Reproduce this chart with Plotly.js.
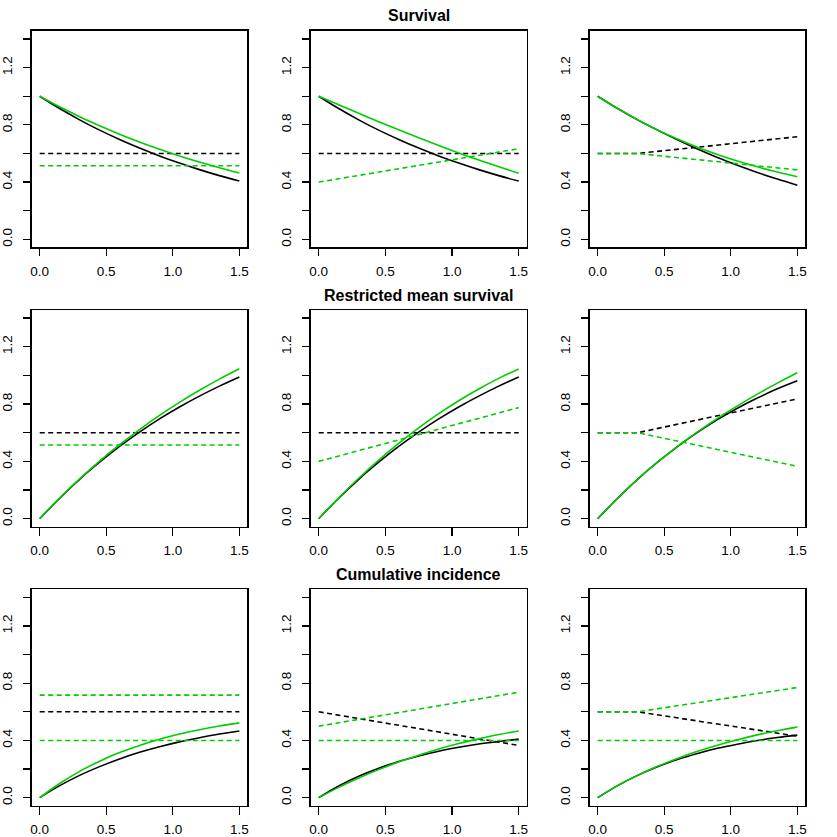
<!DOCTYPE html>
<html>
<head>
<meta charset="utf-8">
<script src="https://cdn.plot.ly/plotly-3.0.1.min.js"></script>
<style>
  html, body { margin: 0; padding: 0; background: #fff; }
  #myDiv { width: 837px; height: 837px; }
</style>
</head>
<body>
<div id="myDiv"></div>
<script>
// shared time grid for the solid curves
var times = [0, 0.15, 0.3, 0.45, 0.6, 0.75, 0.9, 1.05, 1.2, 1.35, 1.5];
var flatX = [0, 1.5];
var kinkX = [0, 0.3, 1.5];

var xTickVals = [0, 0.5, 1, 1.5];
var xTickText = ['0.0', '0.5', '1.0', '1.5'];
var yTickVals = [0, 0.2, 0.4, 0.6, 0.8, 1.0, 1.2, 1.4];
var yTickText = ['0.0', '', '0.4', '', '0.8', '', '1.2', ''];

var rowTitles = ['Survival', 'Restricted mean survival', 'Cumulative incidence'];

// row 1 - survival
var surv1Black = [1, 0.914, 0.835, 0.763, 0.698, 0.638, 0.583, 0.533, 0.487, 0.445, 0.407];
var surv1Green = [1, 0.926, 0.857, 0.794, 0.735, 0.680, 0.630, 0.583, 0.540, 0.500, 0.463];
var surv2Black = [1, 0.914, 0.835, 0.763, 0.698, 0.638, 0.583, 0.533, 0.487, 0.445, 0.407];
var surv2Green = [1, 0.940, 0.881, 0.822, 0.765, 0.710, 0.656, 0.604, 0.554, 0.507, 0.462];
var surv3Black = [1, 0.914, 0.835, 0.763, 0.695, 0.631, 0.572, 0.518, 0.467, 0.421, 0.378];
var surv3Green = [1, 0.914, 0.835, 0.764, 0.701, 0.644, 0.593, 0.548, 0.507, 0.470, 0.437];
var hazS1Black = [0.6, 0.6];
var hazS1Green = [0.514, 0.514];
var hazS2Black = [0.6, 0.6];
var hazS2Green = [0.4, 0.633];
var hazS3Black = [0.6, 0.6, 0.717];
var hazS3Green = [0.6, 0.6, 0.485];

// row 2 - restricted mean survival
var rmst1Black = [0, 0.143, 0.275, 0.394, 0.504, 0.604, 0.696, 0.779, 0.855, 0.925, 0.989];
var rmst1Green = [0, 0.144, 0.278, 0.402, 0.516, 0.622, 0.721, 0.812, 0.896, 0.974, 1.046];
var rmst2Black = [0, 0.143, 0.275, 0.394, 0.504, 0.604, 0.696, 0.779, 0.855, 0.925, 0.989];
var rmst2Green = [0, 0.145, 0.282, 0.409, 0.526, 0.634, 0.733, 0.823, 0.905, 0.979, 1.045];
var rmst3Black = [0, 0.143, 0.275, 0.394, 0.503, 0.602, 0.691, 0.771, 0.842, 0.906, 0.962];
var rmst3Green = [0, 0.143, 0.275, 0.394, 0.505, 0.606, 0.700, 0.787, 0.869, 0.946, 1.018];
var hazR1Black = [0.6, 0.6];
var hazR1Green = [0.514, 0.514];
var hazR2Black = [0.6, 0.6];
var hazR2Green = [0.4, 0.775];
var hazR3Black = [0.6, 0.6, 0.836];
var hazR3Green = [0.6, 0.6, 0.365];

// row 3 - cumulative incidence
var cif1Black = [0, 0.084, 0.156, 0.217, 0.271, 0.317, 0.356, 0.390, 0.419, 0.445, 0.466];
var cif1Green = [0, 0.099, 0.184, 0.255, 0.315, 0.365, 0.408, 0.445, 0.475, 0.501, 0.523];
var cif2Black = [0, 0.082, 0.150, 0.206, 0.253, 0.292, 0.325, 0.352, 0.375, 0.393, 0.409];
var cif2Green = [0, 0.072, 0.137, 0.196, 0.250, 0.297, 0.340, 0.378, 0.411, 0.441, 0.466];
var cif3Black = [0, 0.084, 0.156, 0.216, 0.267, 0.309, 0.345, 0.374, 0.399, 0.420, 0.437];
var cif3Green = [0, 0.084, 0.156, 0.219, 0.274, 0.324, 0.367, 0.405, 0.439, 0.468, 0.493];
var hazC1Black = [0.6, 0.6];
var hazC1Green = [0.717, 0.717];
var hazC2Black = [0.6, 0.365];
var hazC2Green = [0.5, 0.737];
var hazC3Black = [0.6, 0.6, 0.43];
var hazC3Green = [0.6, 0.6, 0.77];
var compGreen = [0.4, 0.4];

var BLACK = '#000000';
var GREEN = '#00CD00';

function curve(panel, x, y, color, dashed) {
  var sfx = panel === 1 ? '' : String(panel);
  return {
    x: x, y: y,
    xaxis: 'x' + sfx, yaxis: 'y' + sfx,
    mode: 'lines',
    line: {
      color: color,
      width: 1.6,
      dash: dashed ? '5px,3.5px' : 'solid',
      shape: dashed ? 'linear' : 'spline'
    },
    showlegend: false,
    hoverinfo: 'skip'
  };
}

var data = [
  curve(1, times, surv1Black, BLACK), curve(1, flatX, hazS1Black, BLACK, true),
  curve(1, times, surv1Green, GREEN), curve(1, flatX, hazS1Green, GREEN, true),

  curve(2, times, surv2Black, BLACK), curve(2, flatX, hazS2Black, BLACK, true),
  curve(2, times, surv2Green, GREEN), curve(2, flatX, hazS2Green, GREEN, true),

  curve(3, times, surv3Black, BLACK), curve(3, kinkX, hazS3Black, BLACK, true),
  curve(3, times, surv3Green, GREEN), curve(3, kinkX, hazS3Green, GREEN, true),

  curve(4, times, rmst1Black, BLACK), curve(4, flatX, hazR1Black, BLACK, true),
  curve(4, times, rmst1Green, GREEN), curve(4, flatX, hazR1Green, GREEN, true),

  curve(5, times, rmst2Black, BLACK), curve(5, flatX, hazR2Black, BLACK, true),
  curve(5, times, rmst2Green, GREEN), curve(5, flatX, hazR2Green, GREEN, true),

  curve(6, times, rmst3Black, BLACK), curve(6, kinkX, hazR3Black, BLACK, true),
  curve(6, times, rmst3Green, GREEN), curve(6, kinkX, hazR3Green, GREEN, true),

  curve(7, times, cif1Black, BLACK), curve(7, flatX, hazC1Black, BLACK, true),
  curve(7, times, cif1Green, GREEN), curve(7, flatX, hazC1Green, GREEN, true),
  curve(7, flatX, compGreen, GREEN, true),

  curve(8, times, cif2Black, BLACK), curve(8, flatX, hazC2Black, BLACK, true),
  curve(8, times, cif2Green, GREEN), curve(8, flatX, hazC2Green, GREEN, true),
  curve(8, flatX, compGreen, GREEN, true),

  curve(9, times, cif3Black, BLACK), curve(9, kinkX, hazC3Black, BLACK, true),
  curve(9, times, cif3Green, GREEN), curve(9, kinkX, hazC3Green, GREEN, true),
  curve(9, flatX, compGreen, GREEN, true)
];

var FONT = 'Liberation Sans, Arial, Helvetica, sans-serif';
var colDomains = [[0.0379, 0.2955], [0.3712, 0.6293], [0.7045, 0.9621]];
var rowDomains = [[0.7045, 0.963], [0.3707, 0.6296], [0.0374, 0.2959]];
var titleY = [1 - 15.5 / 837, 1 - 295 / 837, 1 - 574 / 837];

var layout = {
  width: 837,
  height: 837,
  margin: { l: 0, r: 0, t: 0, b: 0 },
  paper_bgcolor: '#fff',
  plot_bgcolor: '#fff',
  font: { family: FONT, size: 13.5, color: '#000' },
  annotations: []
};

for (var k = 1; k <= 9; k++) {
  var r = Math.floor((k - 1) / 3), c = (k - 1) % 3;
  var sfx = k === 1 ? '' : String(k);
  layout['xaxis' + sfx] = {
    domain: colDomains[c],
    anchor: 'y' + sfx,
    range: [-0.06, 1.56],
    showgrid: false, zeroline: false,
    showline: true, mirror: true, linecolor: '#000', linewidth: 1.5,
    ticks: 'outside', ticklen: 7.5, tickwidth: 1.2, tickcolor: '#000',
    tickvals: xTickVals, ticktext: xTickText,
    ticklabelstandoff: 3,
    fixedrange: true
  };
  layout['yaxis' + sfx] = {
    domain: rowDomains[r],
    anchor: 'x' + sfx,
    range: [-0.056, 1.456],
    showgrid: false, zeroline: false,
    showline: true, mirror: true, linecolor: '#000', linewidth: 1.5,
    ticks: 'outside', ticklen: 7.5, tickwidth: 1.2, tickcolor: '#000',
    tickvals: yTickVals, ticktext: yTickText,
    tickangle: -90,
    ticklabelstandoff: 5,
    fixedrange: true
  };
}

for (var i = 0; i < 3; i++) {
  layout.annotations.push({
    text: '<b>' + rowTitles[i] + '</b>',
    xref: 'paper', yref: 'paper',
    x: 0.5002, y: titleY[i],
    xanchor: 'center', yanchor: 'middle',
    showarrow: false,
    font: { family: FONT, size: 16, color: '#000' }
  });
}

Plotly.newPlot('myDiv', data, layout, { staticPlot: true, displayModeBar: false });
</script>
</body>
</html>
